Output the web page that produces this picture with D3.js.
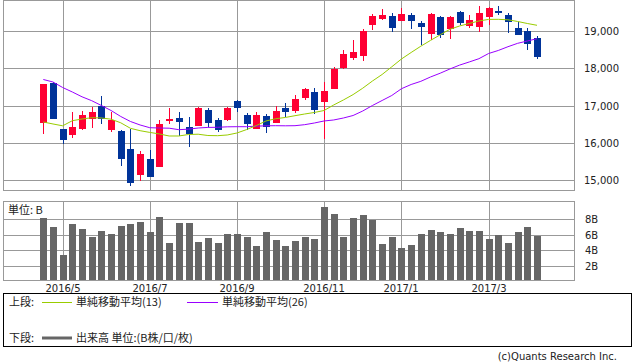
<!DOCTYPE html>
<html>
<head>
<meta charset="utf-8">
<script src="https://cdn.jsdelivr.net/npm/d3@7"></script>
<style>
  body { margin: 0; background: #fff; }
  svg { display: block; }
  .num { font-family: "DejaVu Sans", sans-serif; font-size: 10px; fill: #222; }
  .jp { font-family: "Noto Sans CJK JP", sans-serif; font-size: 11px; fill: #222; }
</style>
</head>
<body>
<div id="chart"></div>
<script>
// weekly candles, 2016/4 - 2017/4
const weeks = [
  "2016-04-18","2016-04-25","2016-05-02","2016-05-09","2016-05-16","2016-05-23","2016-05-30","2016-06-06",
  "2016-06-13","2016-06-20","2016-06-27","2016-07-04","2016-07-11","2016-07-18","2016-07-25","2016-08-01",
  "2016-08-08","2016-08-15","2016-08-22","2016-08-29","2016-09-05","2016-09-12","2016-09-19","2016-09-26",
  "2016-10-03","2016-10-10","2016-10-17","2016-10-24","2016-10-31","2016-11-07","2016-11-14","2016-11-21",
  "2016-11-28","2016-12-05","2016-12-12","2016-12-19","2016-12-26","2017-01-02","2017-01-09","2017-01-16",
  "2017-01-23","2017-01-30","2017-02-06","2017-02-13","2017-02-20","2017-02-27","2017-03-06","2017-03-13",
  "2017-03-20","2017-03-27","2017-04-03","2017-04-10"
];
const open = [16540,17615,16375,16214,16375,16643,16991,16348,16321,15839,15142,15571,15365,16597,16670,16428,
  16463,16884,16616,16616,17125,16750,16375,16723,16536,16937,16857,17205,17366,17098,17446,18009,
  18277,18330,19161,19321,19402,19268,19429,19214,18920,19375,19054,19509,19134,19107,19375,19536,
  19429,19080,19000,18812];
const high = [17590,17630,16380,16830,16857,16964,17259,16830,16348,16375,15785,15812,16616,16937,16830,16696,
  16964,16937,16670,16964,17152,16803,16830,16777,16991,17071,17286,17473,17473,17634,18036,18491,
  18759,19054,19455,19589,19482,19616,19482,19268,19482,19402,19402,19536,19429,19670,19643,19670,
  19482,19241,19080,18866];
const low = [16250,16640,15962,16142,16350,16402,16509,16294,15384,14848,14982,15080,15360,16509,16187,15893,
  16455,16437,16294,16589,16830,16348,16370,16268,16530,16696,16803,17152,16777,16107,17440,17982,
  18223,18196,19027,19295,18973,19260,19054,18625,18759,18812,18786,19161,19080,18973,19161,19429,
  18946,18880,18491,18250];
const close = [17580,16650,16080,16428,16750,16830,16643,16616,15571,14928,15705,15089,16509,16643,16562,16241,
  16946,16543,16348,16937,16937,16509,16750,16428,16857,16830,17178,17446,16884,17393,17982,18384,
  18437,19000,19402,19429,19080,19455,19268,19107,19455,18893,19375,19214,19295,19482,19616,19482,
  19241,18893,18652,18304];
const ma13 = [16562,16509,16460,16597,16642,16677,16670,16637,16541,16393,16329,16283,16241,16187,16187,16227,
  16235,16200,16195,16214,16267,16359,16466,16589,16650,16683,16731,16776,16817,16870,17018,17152,
  17296,17468,17660,17835,18041,18250,18424,18593,18748,18898,19046,19134,19201,19268,19311,19313,
  19300,19255,19201,19153];
const ma26 = [17701,17634,17486,17366,17237,17133,17004,16870,16710,16576,16482,16409,16401,16396,16356,16370,
  16401,16417,16420,16433,16436,16436,16450,16460,16463,16460,16463,16490,16535,16589,16616,16669,
  16736,16857,17004,17138,17272,17454,17567,17652,17768,17869,17982,18086,18170,18258,18397,18478,
  18579,18670,18732,18794];
// volume, billion shares
const volume = [8.2,7.05,3.4,7.45,6.8,5.75,6.55,6.15,7.2,7.45,7.7,6.4,8.35,5.0,7.55,7.55,
  5.1,5.6,5.0,6.15,6.15,5.75,4.6,6.3,5.35,4.6,5.25,5.75,5.5,9.65,8.7,5.75,
  8.2,8.6,7.95,4.85,5.75,4.35,4.7,6.15,6.65,6.4,6.15,6.9,6.55,6.55,5.5,6.0,
  5.0,6.4,7.05,5.9];

const tickWeeks = ["2016-05-02","2016-07-04","2016-09-05","2016-11-07","2017-01-02","2017-03-06"];
const tickLabels = ["2016/5","2016/7","2016/9","2016/11","2017/1","2017/3"];
const priceTicks = [15000,16000,17000,18000,19000];
const volTicks = [2,4,6,8];

const W = 638, H = 362;
const L = 3.5, R = 574.5;
const upColor = "#ff0033", downColor = "#003399";
const gridColor = "#999";

const svg = d3.select("#chart").append("svg")
  .attr("width", W).attr("height", H);

const x = d3.scalePoint().domain(weeks).range([43.3, 537]);
const y = d3.scaleLinear().domain([15000, 19000]).range([180.3, 31]);
const yv = d3.scaleLinear().domain([0, 8]).range([281, 219.4]);

const px = d => Math.round(x(d));
const crisp = v => Math.round(v) + 0.5;

// ---- price panel
const pricePanel = svg.append("g");
pricePanel.selectAll("line.hg").data(priceTicks).enter().append("line")
  .attr("x1", L).attr("x2", R)
  .attr("y1", d => crisp(y(d))).attr("y2", d => crisp(y(d)))
  .attr("stroke", gridColor);
pricePanel.selectAll("line.vg").data(tickWeeks).enter().append("line")
  .attr("x1", d => px(d) + 0.5).attr("x2", d => px(d) + 0.5)
  .attr("y1", 0).attr("y2", 190)
  .attr("stroke", gridColor);
pricePanel.append("rect").attr("x", L).attr("y", 0.5).attr("width", R - L).attr("height", 190)
  .attr("fill", "none").attr("stroke", gridColor);

const candles = pricePanel.selectAll("g.c").data(weeks).enter().append("g");
candles.append("line")
  .attr("x1", d => px(d) + 0.5).attr("x2", d => px(d) + 0.5)
  .attr("y1", (d, i) => Math.round(y(high[i])))
  .attr("y2", (d, i) => Math.round(y(low[i])))
  .attr("stroke", (d, i) => close[i] >= open[i] ? upColor : downColor);
candles.append("rect")
  .attr("x", d => px(d) - 3)
  .attr("width", 7)
  .attr("y", (d, i) => Math.round(y(Math.max(open[i], close[i]))))
  .attr("height", (d, i) => Math.max(2, Math.round(Math.abs(y(open[i]) - y(close[i])))))
  .attr("fill", (d, i) => close[i] >= open[i] ? upColor : downColor);

const line = d3.line().x((d, i) => x(weeks[i])).y(d => y(d));
pricePanel.append("path").datum(ma26).attr("d", line)
  .attr("fill", "none").attr("stroke", "#9900ff").attr("stroke-width", 1);
pricePanel.append("path").datum(ma13).attr("d", line)
  .attr("fill", "none").attr("stroke", "#99cc00").attr("stroke-width", 1);

pricePanel.selectAll("text").data(priceTicks).enter().append("text")
  .attr("class", "num").attr("x", 584).attr("y", d => y(d) + 4)
  .text(d => d3.format(",")(d));

// ---- volume panel
const volPanel = svg.append("g");
volPanel.selectAll("line.hg").data(volTicks).enter().append("line")
  .attr("x1", L).attr("x2", R)
  .attr("y1", d => crisp(yv(d))).attr("y2", d => crisp(yv(d)))
  .attr("stroke", gridColor);
volPanel.selectAll("line.vg").data(tickWeeks).enter().append("line")
  .attr("x1", d => px(d) + 0.5).attr("x2", d => px(d) + 0.5)
  .attr("y1", 202).attr("y2", 280)
  .attr("stroke", gridColor);
volPanel.selectAll("rect.v").data(weeks).enter().append("rect")
  .attr("x", d => px(d) - 3).attr("width", 7)
  .attr("y", (d, i) => Math.round(yv(volume[i])))
  .attr("height", (d, i) => 280 - Math.round(yv(volume[i])))
  .attr("fill", "#666");
volPanel.append("rect").attr("x", L).attr("y", 201.5).attr("width", R - L).attr("height", 79)
  .attr("fill", "none").attr("stroke", gridColor);
volPanel.append("text").attr("class", "jp").attr("x", 8).attr("y", 214).text("単位: B");
volPanel.selectAll("text.vl").data(volTicks).enter().append("text")
  .attr("class", "num").attr("x", 585).attr("y", d => yv(d) + 4)
  .text(d => d + "B");

// date labels
svg.selectAll("text.dt").data(tickWeeks).enter().append("text")
  .attr("class", "num").attr("text-anchor", "middle")
  .attr("x", d => px(d)).attr("y", 292)
  .text((d, i) => tickLabels[i]);

// ---- legend
const lg = svg.append("g");
lg.append("rect").attr("x", 3.5).attr("y", 293.5).attr("width", 628).attr("height", 53)
  .attr("fill", "none").attr("stroke", "#000");
lg.append("text").attr("class", "jp").attr("x", 9).attr("y", 306).text("上段:");
lg.append("line").attr("x1", 42).attr("x2", 72).attr("y1", 302.5).attr("y2", 302.5).attr("stroke", "#99cc00");
lg.append("text").attr("class", "jp").attr("x", 76).attr("y", 306).text("単純移動平均(13)");
lg.append("line").attr("x1", 187).attr("x2", 218).attr("y1", 302.5).attr("y2", 302.5).attr("stroke", "#9900ff");
lg.append("text").attr("class", "jp").attr("x", 222).attr("y", 306).text("単純移動平均(26)");
lg.append("text").attr("class", "jp").attr("x", 9).attr("y", 342).text("下段:");
lg.append("line").attr("x1", 42).attr("x2", 72).attr("y1", 338).attr("y2", 338).attr("stroke", "#666").attr("stroke-width", 3);
lg.append("text").attr("class", "jp").attr("x", 76).attr("y", 342).text("出来高 単位:(B株/口/枚)");

svg.append("text").attr("class", "num").attr("text-anchor", "end")
  .attr("x", 617).attr("y", 360).text("(c)Quants Research Inc.");
</script>
</body>
</html>
